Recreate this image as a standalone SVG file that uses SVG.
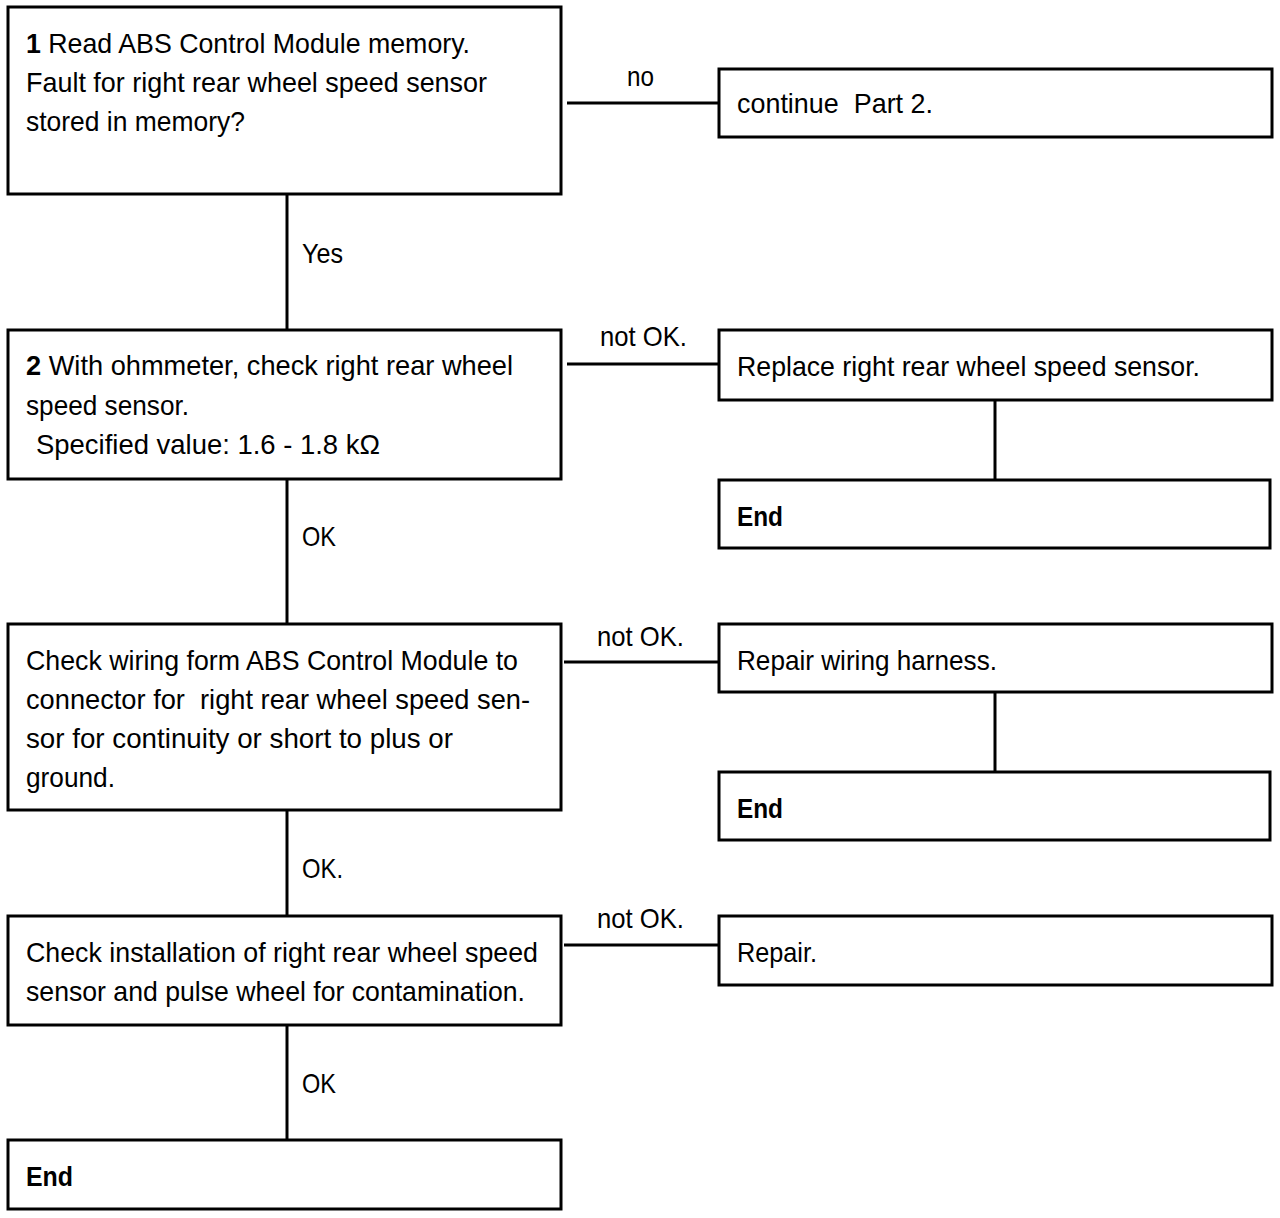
<svg xmlns="http://www.w3.org/2000/svg" width="1280" height="1218" viewBox="0 0 1280 1218">
<style>
rect{fill:#fff;stroke:#000;stroke-width:3}
line{stroke:#000;stroke-width:3}
text{font-family:"Liberation Sans",Arial,sans-serif;font-size:28px;fill:#000;white-space:pre}
.b{font-weight:bold}
</style>
<rect x="0" y="0" width="1280" height="1218" style="stroke:none"/>
<g id="connectors">
<line x1="287" y1="194" x2="287" y2="330"/>
<line x1="287" y1="479" x2="287" y2="624"/>
<line x1="287" y1="810" x2="287" y2="916"/>
<line x1="287" y1="1025" x2="287" y2="1140"/>
<line x1="567" y1="103" x2="719" y2="103"/>
<line x1="567" y1="364" x2="719" y2="364"/>
<line x1="564" y1="662" x2="719" y2="662"/>
<line x1="564" y1="945" x2="719" y2="945"/>
<line x1="995" y1="400" x2="995" y2="480"/>
<line x1="995" y1="692" x2="995" y2="772"/>
<text x="627" y="86" textLength="27" lengthAdjust="spacingAndGlyphs">no</text>
<text x="302" y="263" textLength="41" lengthAdjust="spacingAndGlyphs">Yes</text>
<text x="600" y="346" textLength="87" lengthAdjust="spacingAndGlyphs">not OK.</text>
<text x="302" y="546" textLength="34" lengthAdjust="spacingAndGlyphs">OK</text>
<text x="597" y="646" textLength="87" lengthAdjust="spacingAndGlyphs">not OK.</text>
<text x="302" y="878" textLength="41" lengthAdjust="spacingAndGlyphs">OK.</text>
<text x="597" y="928" textLength="87" lengthAdjust="spacingAndGlyphs">not OK.</text>
<text x="302" y="1093" textLength="34" lengthAdjust="spacingAndGlyphs">OK</text>
</g>
<g id="n1">
<rect x="8" y="7" width="553" height="187"/>
<text x="26" y="53" textLength="444" lengthAdjust="spacingAndGlyphs"><tspan class="b">1</tspan> Read ABS Control Module memory.</text>
<text x="26" y="92" textLength="461" lengthAdjust="spacingAndGlyphs">Fault for right rear wheel speed sensor</text>
<text x="26" y="131" textLength="219" lengthAdjust="spacingAndGlyphs">stored in memory?</text>
</g>
<g id="n_continue">
<rect x="719" y="69" width="553" height="68"/>
<text x="737" y="113" textLength="196" lengthAdjust="spacingAndGlyphs">continue  Part 2.</text>
</g>
<g id="n2">
<rect x="8" y="330" width="553" height="149"/>
<text x="26" y="375" textLength="487" lengthAdjust="spacingAndGlyphs"><tspan class="b">2</tspan> With ohmmeter, check right rear wheel</text>
<text x="26" y="415" textLength="163" lengthAdjust="spacingAndGlyphs">speed sensor.</text>
<text x="36" y="454" textLength="344" lengthAdjust="spacingAndGlyphs">Specified value: 1.6 - 1.8 kΩ</text>
</g>
<g id="n_replace">
<rect x="719" y="330" width="553" height="70"/>
<text x="737" y="376" textLength="463" lengthAdjust="spacingAndGlyphs">Replace right rear wheel speed sensor.</text>
</g>
<g id="n_end1">
<rect x="719" y="480" width="551" height="68"/>
<text class="b" x="737" y="526" textLength="46" lengthAdjust="spacingAndGlyphs">End</text>
</g>
<g id="n3">
<rect x="8" y="624" width="553" height="186"/>
<text x="26" y="670" textLength="492" lengthAdjust="spacingAndGlyphs">Check wiring form ABS Control Module to</text>
<text x="26" y="709" textLength="504" lengthAdjust="spacingAndGlyphs">connector for  right rear wheel speed sen-</text>
<text x="26" y="748" textLength="427" lengthAdjust="spacingAndGlyphs">sor for continuity or short to plus or</text>
<text x="26" y="787" textLength="89" lengthAdjust="spacingAndGlyphs">ground.</text>
</g>
<g id="n_wiring">
<rect x="719" y="624" width="553" height="68"/>
<text x="737" y="670" textLength="260" lengthAdjust="spacingAndGlyphs">Repair wiring harness.</text>
</g>
<g id="n_end2">
<rect x="719" y="772" width="551" height="68"/>
<text class="b" x="737" y="818" textLength="46" lengthAdjust="spacingAndGlyphs">End</text>
</g>
<g id="n4">
<rect x="8" y="916" width="553" height="109"/>
<text x="26" y="962" textLength="512" lengthAdjust="spacingAndGlyphs">Check installation of right rear wheel speed</text>
<text x="26" y="1001" textLength="499" lengthAdjust="spacingAndGlyphs">sensor and pulse wheel for contamination.</text>
</g>
<g id="n_repair">
<rect x="719" y="916" width="553" height="69"/>
<text x="737" y="962" textLength="80" lengthAdjust="spacingAndGlyphs">Repair.</text>
</g>
<g id="n_end3">
<rect x="8" y="1140" width="553" height="69"/>
<text class="b" x="26" y="1186" textLength="47" lengthAdjust="spacingAndGlyphs">End</text>
</g>
</svg>
